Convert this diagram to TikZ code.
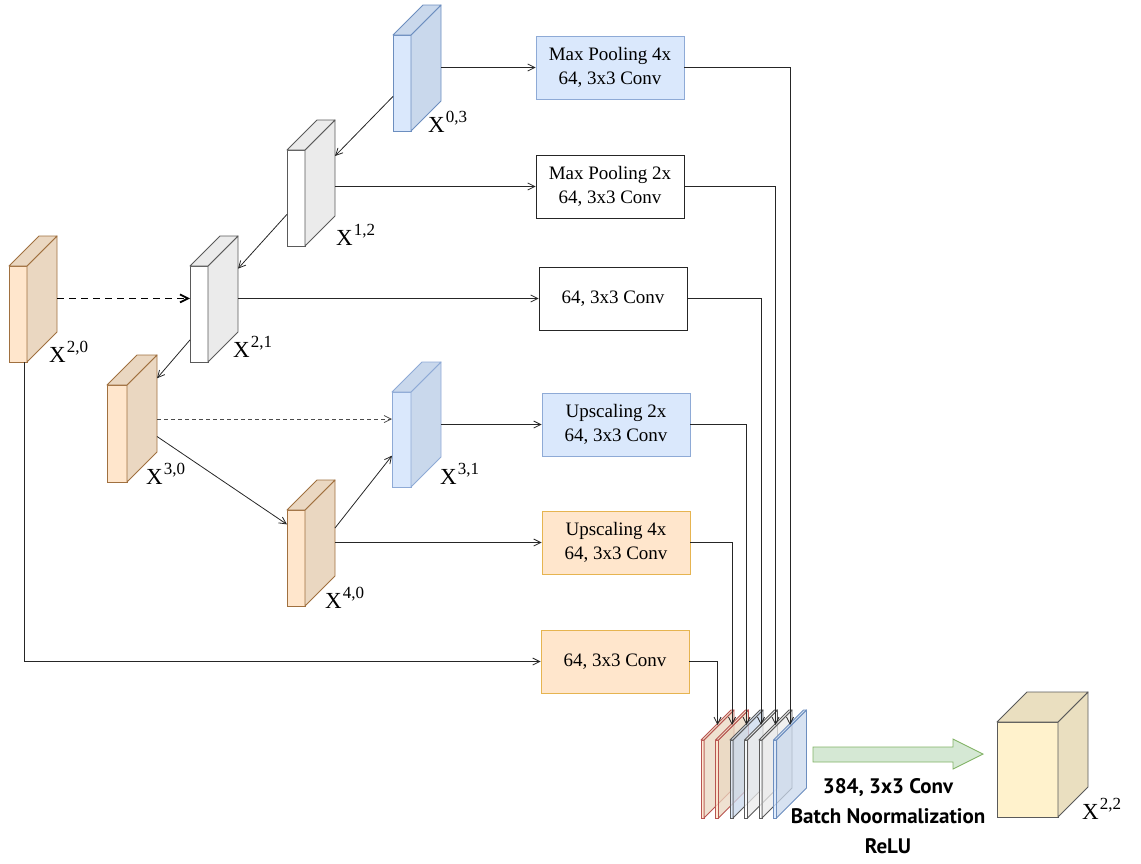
\documentclass[tikz,border=0pt]{standalone}
\usepackage{fontspec}
\setmainfont{Liberation Serif}
\newfontfamily\capsans{PT Sans}
\usetikzlibrary{arrows.meta,calc}
\definecolor{blueF}{HTML}{DAE8FC}
\definecolor{blueS}{HTML}{C9D8EC}
\definecolor{blueD}{HTML}{6C8EBF}
\definecolor{blueB}{HTML}{8EAAD6}
\definecolor{grayS}{HTML}{EBEBEB}
\definecolor{grayD}{HTML}{5A5A5A}
\definecolor{orF}{HTML}{FFE6CC}
\definecolor{orS}{HTML}{EAD7C1}
\definecolor{orD}{HTML}{A0703F}
\definecolor{orB}{HTML}{E6B450}
\definecolor{redD}{HTML}{B85450}
\definecolor{grnF}{HTML}{D5E8D4}
\definecolor{grnD}{HTML}{82B366}
\definecolor{yelF}{HTML}{FFF2CC}
\definecolor{yelS}{HTML}{EADFC0}
\newcommand\slab[8]{%
  \node[slabface, draw=#8, fill=#6, minimum width=#4, minimum height=#5, anchor=north west] (#1) at (#2,#3) {};
  \draw[draw=#8, fill=#7, line join=round, line width=0.9pt] (#1.north east) -- ++(30,-30) -- ++(0,#5) -- (#1.south east) -- cycle;
  \draw[draw=#8, fill=#7, line join=round, line width=0.9pt] (#1.north west) -- ++(30,-30) -- ++(#4,0) -- (#1.north east) -- cycle;
  \coordinate (#1-bt) at ($(#1.north east)+(30,-30)$);
  \coordinate (#1-bb) at ($(#1.south east)+(30,-30)$);
}
\newcommand\bslab[5]{%
  \node[slabface, draw=#5, fill=#3, fill opacity=0.8, minimum width=3, minimum height=78, anchor=north west] (#1) at (#2,740) {};
  \draw[draw=#5, fill=#4, fill opacity=0.75, line join=round, line width=0.9pt] (#1.north east) -- ++(30,-30) -- ++(0,78) -- (#1.south east) -- cycle;
  \draw[draw=#5, fill=#4, fill opacity=0.75, line join=round, line width=0.9pt] (#1.north west) -- ++(30,-30) -- ++(3,0) -- (#1.north east) -- cycle;
  \coordinate (#1-t) at ($(#1.north)+(15,-15)$);
}
\newcommand\xlab[1]{X\kern1pt\raisebox{0.42em}{\fontsize{17}{17}\selectfont #1}}
\begin{document}
\begin{tikzpicture}[x=1pt,y=-1pt,
  slabface/.style={rectangle, inner sep=0pt, outer sep=0pt, line width=0.9pt},
  box/.style={rectangle, draw, line width=0.9pt, minimum width=148, minimum height=63, inner sep=0pt, align=center, font=\fontsize{19}{24}\selectfont},
  bluebox/.style={box, draw=blueB, fill=blueF},
  whitebox/.style={box, draw=black!85, fill=white},
  orbox/.style={box, draw=orB, fill=orF},
  conn/.style={draw=black!85, line width=0.8pt, -{Straight Barb[length=7pt,width=7pt]}},
  lbl/.style={anchor=base west, inner sep=0pt, font=\fontsize{23}{23}\selectfont}]
\useasboundingbox (0,0) rectangle (1141,863);

% boxes
\node[bluebox]  (b1) at (610,67.5)  {Max Pooling 4x\\64, 3x3 Conv};
\node[whitebox] (b2) at (610,186.5) {Max Pooling 2x\\64, 3x3 Conv};
\node[whitebox] (b3) at (613,298.5) {64, 3x3 Conv};
\node[bluebox]  (b4) at (616,424.5) {Upscaling 2x\\64, 3x3 Conv};
\node[orbox]    (b5) at (616,542.5) {Upscaling 4x\\64, 3x3 Conv};
\node[orbox]    (b6) at (615,661.5) {64, 3x3 Conv};

% slabs
\slab{x03}{393}{35}{18}{96}{blueF}{blueS}{blueD}
\slab{x12}{287}{150}{18}{96}{white}{grayS}{grayD}
\slab{x21}{190}{266}{18}{96}{white}{grayS}{grayD}
\slab{x20}{9}{266}{18}{96}{orF}{orS}{orD}
\slab{x30}{107}{385}{20}{97}{orF}{orS}{orD}
\slab{x40}{287}{510}{18}{96}{orF}{orS}{orD}
\slab{x31}{392}{392}{19}{95}{blueF}{blueS}{blueB}

% labels
\node[lbl] (lx03) at (428,132) {\xlab{0,3}};
\node[lbl] (lx12) at (336,245) {\xlab{1,2}};
\node[lbl] (lx20) at (49,362)  {\xlab{2,0}};
\node[lbl] (lx21) at (233,357) {\xlab{2,1}};
\node[lbl] (lx30) at (146,484) {\xlab{3,0}};
\node[lbl] (lx31) at (440,484) {\xlab{3,1}};
\node[lbl] (lx40) at (325,608) {\xlab{4,0}};

% slab to box
\draw[conn] (b1.west -| x03-bt) -- (b1.west);
\draw[conn] (b2.west -| x12-bt) -- (b2.west);
\draw[conn] (b3.west -| x21-bt) -- (b3.west);
\draw[conn] (b4.west -| x31-bt) -- (b4.west);
\draw[conn] (b5.west -| x40-bt) -- (b5.west);
\draw[conn] ($(x20.south west)!0.85!(x20.south east)$) |- (b6.west);

% slab to slab
\draw[conn] ($(x03.north west)!0.64!(x03.south west)$) -- ($(x12-bt)!0.375!(x12-bb)$);
\draw[conn] ($(x12.north west)!0.67!(x12.south west)$) -- ($(x21-bt)!0.34!(x21-bb)$);
\draw[conn] ($(x21.north west)!0.77!(x21.south west)$) -- ($(x30-bt)!0.24!(x30-bb)$);
\draw[conn] ($(x30-bt)!0.84!(x30-bb)$) -- ($(x40.north west)!0.15!(x40.south west)$);
\draw[conn] ($(x40-bt)!0.5!(x40-bb)$) -- ($(x31.north west)!0.67!(x31.south west)$);
\coordinate (d1) at ($(x20-bt)!0.65!(x20-bb)$);
\draw[conn, draw=black, line width=1.8pt, dash pattern=on 7pt off 5pt, -{Straight Barb[length=8pt,width=8pt]}] (d1) -- (d1 -| x21.west);
\coordinate (d2) at ($(x30-bt)!0.66!(x30-bb)$);
\draw[conn, draw=black!70, dash pattern=on 4pt off 3pt] (d2) -- (d2 -| x31.west);

% bundle
\bslab{s1}{701}{orF}{orS}{redD}
\bslab{s2}{715.5}{orF}{orS}{redD}
\bslab{s3}{730}{blueF}{blueS}{grayD}
\bslab{s4}{744.5}{white}{grayS}{grayD}
\bslab{s5}{759}{white}{grayS}{grayD}
\bslab{s6}{773.5}{blueF}{blueS}{blueD}

\draw[conn] (b6.east) -| (s1-t);
\draw[conn] (b5.east) -| (s2-t);
\draw[conn] (b4.east) -| (s3-t);
\draw[conn] (b3.east) -| (s4-t);
\draw[conn] (b2.east) -| (s5-t);
\draw[conn] (b1.east) -| (s6-t);

% big arrow
\draw[draw=grnD, fill=grnF, line width=0.9pt, line join=miter]
  (813,747) -- (953,747) -- (953,739) -- (983,754) -- (953,769) -- (953,762) -- (813,762) -- cycle;
\node[align=center, inner sep=0pt, font=\capsans\bfseries\fontsize{21}{30}\selectfont] (cap) at (888,816)
  {384, 3x3 Conv\\Batch Noormalization\\ReLU};

% output cube
\slab{x22}{997}{722}{61}{95}{yelF}{yelS}{grayD}
\node[lbl] (lx22) at (1082,819) {\xlab{2,2}};
\end{tikzpicture}
\end{document}
